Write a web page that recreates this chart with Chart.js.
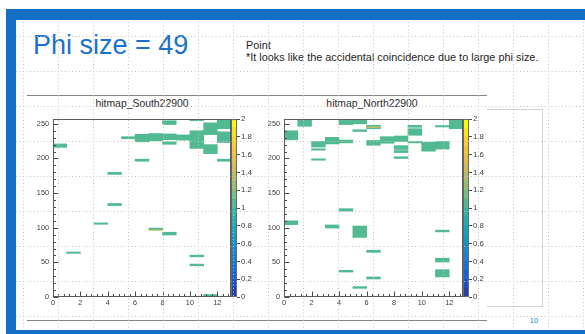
<!DOCTYPE html>
<html>
<head>
<meta charset="utf-8">
<script src="https://cdn.jsdelivr.net/npm/chart.js@4.4.1/dist/chart.umd.min.js"></script>
<style>
  html, body { margin: 0; padding: 0; background: #fff; }
  body { width: 585px; height: 334px; position: relative; overflow: hidden;
         font-family: "Liberation Sans", Arial, Helvetica, sans-serif; }
  .abs { position: absolute; }
  .band { position: absolute; background: #1570c5; }
  #grid { left: 16px; top: 20px; width: 569px; height: 310px; z-index: 5; pointer-events: none;
          background-image: url("data:image/svg+xml,%3Csvg xmlns='http://www.w3.org/2000/svg' width='35' height='35'%3E%3Cpath d='M0 0.5H35M0.5 0V35' stroke='%23c2c2c2' stroke-width='1' stroke-dasharray='1 2.5' fill='none'/%3E%3C/svg%3E");
          background-position: 7px 16px; }
  .slideTitle { left: 33px; top: 32px; font-size: 27px; line-height: 27px; color: #1b72c8; white-space: nowrap; }
  .note { left: 246px; font-size: 10.9px; line-height: 11px; color: #1e1e1e; white-space: nowrap; }
  .padTitle { width: 230px; text-align: center; font-size: 10.4px; line-height: 10.4px; color: #2a2a2a; top: 99px; }
  .rule { background: #858585; height: 1px; }
  canvas { position: absolute; }
</style>
</head>
<body>
<div class="band" style="left:6px;top:9px;width:579px;height:11px;"></div>
<div class="band" style="left:6px;top:9px;width:10px;height:325px;"></div>
<div class="band" style="left:6px;top:330px;width:579px;height:4px;"></div>

<div class="abs slideTitle">Phi size = 49</div>
<div class="abs note" style="top:40px;">Point</div>
<div class="abs note" style="top:52px;">*It looks like the accidental coincidence due to large phi size.</div>

<div class="abs rule" style="left:27px;top:95px;width:460px;"></div>
<div class="abs rule" style="left:27px;top:320px;width:460px;"></div>
<div class="abs" style="left:487px;top:109px;width:55px;height:196px;border:1px solid #d2d2d2;border-left:none;"></div>

<div class="abs padTitle" style="left:27px;">hitmap_South22900</div>
<div class="abs padTitle" style="left:257px;">hitmap_North22900</div>

<canvas id="south" width="230" height="225" style="left:27px;top:95px;"></canvas>
<canvas id="southZ" width="26" height="225" style="left:231px;top:95px;"></canvas>
<canvas id="north" width="230" height="225" style="left:257px;top:95px;"></canvas>
<canvas id="northZ" width="26" height="225" style="left:463px;top:95px;"></canvas>

<div class="abs" style="left:524px;top:317px;width:20px;text-align:center;font-size:7.5px;line-height:7.5px;color:#2a7fd0;">10</div>
<div id="grid" class="abs"></div>

<script>
// Bin labels and axis ticks
const xBins  = ['0','1','2','3','4','5','6','7','8','9','10','11','12'];
const xTicks = [0, 2, 4, 6, 8, 10, 12];
const yTicks = [0, 50, 100, 150, 200, 250];
const zLevels = [0, 0.1, 0.2, 0.3, 0.4, 0.5, 0.6, 0.7, 0.8, 0.9, 1.0,
                 1.1, 1.2, 1.3, 1.4, 1.5, 1.6, 1.7, 1.8, 1.9, 2.0];
const zTicks = [0, 0.2, 0.4, 0.6, 0.8, 1, 1.2, 1.4, 1.6, 1.8, 2];

// Hit cells: [column, y low, y high, content]
const southCells = [
  [0, 216, 221, 1],
  [1, 63, 65, 1],
  [3, 105, 107, 1],
  [4, 132, 135, 1],
  [4, 177, 180, 1],
  [5, 228.5, 231.5, 1],
  [6, 196, 199, 1],
  [6, 224, 235, 1],
  [7, 225.5, 236, 1],
  [7, 97.2, 99.5, 1],
  [7, 96.2, 97.2, 1.3],
  [8, 89.5, 93.5, 1],
  [8, 227, 235.5, 1],
  [8, 220.5, 224, 1],
  [8, 249, 254.5, 1],
  [9, 226.5, 234, 1],
  [10, 214.5, 240, 1],
  [10, 254.5, 257, 1],
  [10, 58, 60.5, 1],
  [10, 45, 47.5, 1],
  [11, 234.5, 251.5, 1],
  [11, 207, 220, 1],
  [11, 0, 3.5, 1],
  [12, 243, 257, 1],
  [12, 223, 238.5, 1],
  [12, 196, 199, 1]
];

const northCells = [
  [0, 227, 240, 1],
  [0, 104.5, 110, 1],
  [1, 246.5, 256, 1],
  [2, 216.5, 224.5, 1],
  [2, 212, 214, 1],
  [2, 197.5, 199.5, 1],
  [3, 221, 230.5, 1],
  [3, 99.5, 104, 1],
  [4, 249, 255, 1],
  [4, 222.5, 226.5, 1],
  [4, 124, 127.5, 1],
  [4, 36, 38.5, 1],
  [5, 250, 256.5, 1],
  [5, 239, 241.5, 1],
  [5, 86, 102.5, 1],
  [5, 12.5, 15, 1],
  [6, 243, 248, 1],
  [6, 244.5, 246, 1.3],
  [6, 219, 226, 1],
  [6, 64.5, 67.5, 1],
  [6, 26, 29, 1],
  [7, 222, 231.5, 1],
  [8, 224.5, 232.5, 1],
  [8, 213, 218.5, 1],
  [8, 208.5, 211.5, 1],
  [8, 200, 202.5, 1],
  [9, 233.5, 243, 1],
  [9, 245, 247.8, 1],
  [9, 222.5, 224.5, 1],
  [10, 210.5, 223.5, 1],
  [11, 213.5, 224.5, 1],
  [11, 245.5, 247.5, 1],
  [11, 94, 96.5, 1],
  [11, 50.5, 56, 1],
  [11, 29, 39.5, 1],
  [12, 243, 256.5, 1]
];

// "Bird" colour palette
const birdStops = [0.0000, 0.1250, 0.2500, 0.3750, 0.5000, 0.6250, 0.7500, 0.8750, 1.0000];
const birdRed   = [0.2082, 0.0592, 0.0780, 0.0232, 0.1802, 0.5301, 0.8186, 0.9956, 0.9764];
const birdGreen = [0.1664, 0.3599, 0.5041, 0.6419, 0.7178, 0.7492, 0.7328, 0.7862, 0.9832];
const birdBlue  = [0.5293, 0.8684, 0.8385, 0.7914, 0.6425, 0.4662, 0.3499, 0.1968, 0.0539];

function birdColor(f) {
  f = Math.max(0, Math.min(1, f));
  let i = 0;
  while (i < birdStops.length - 2 && f > birdStops[i + 1]) i++;
  const t = (f - birdStops[i]) / (birdStops[i + 1] - birdStops[i]);
  const mix = a => Math.round(255 * (a[i] + (a[i + 1] - a[i]) * t));
  return `rgb(${mix(birdRed)},${mix(birdGreen)},${mix(birdBlue)})`;
}

const nLevels = zLevels.length - 1;
const zMax = zLevels[nLevels];
function levelColor(i) { return birdColor((i + 0.99) / nLevels); }
function zColor(z) {
  const i = Math.min(nLevels - 1, Math.floor(z / (zMax / nLevels) + 1e-9));
  return levelColor(i);
}

const FONT = "'Liberation Sans', Arial, Helvetica, sans-serif";
const Y_MAX = 257;
const X_MAX = 13;

// Frame around the plot area and inward-pointing axis ticks
const rootFrame = {
  id: 'rootFrame',
  afterDatasetsDraw(chart, args, o) {
    const { ctx, chartArea: a } = chart;
    const L = Math.round(a.left) + 0.5, R = Math.round(a.right) - 0.5;
    const T = Math.round(a.top) + 0.5, B = Math.round(a.bottom) - 0.5;
    ctx.save();
    ctx.lineWidth = 1;
    if (o.ticks) {
      const xs = chart.scales.xt, ys = chart.scales.y;
      ctx.strokeStyle = o.tickColor;
      ctx.beginPath();
      const subX = (xTicks[1] - xTicks[0]) / 5;
      for (let k = 0; k * subX <= xs.max + 1e-9; k++) {
        const v = k * subX;
        const px = Math.round(xs.getPixelForValue(v)) + 0.5;
        const major = xTicks.some(t => Math.abs(t - v) < 1e-6);
        ctx.moveTo(px, B);
        ctx.lineTo(px, B - (major ? 5 : 2.5));
      }
      const subY = (yTicks[1] - yTicks[0]) / 5;
      for (let k = 0; k * subY <= ys.max + 1e-9; k++) {
        const v = k * subY;
        const py = Math.round(ys.getPixelForValue(v)) + 0.5;
        const major = yTicks.some(t => Math.abs(t - v) < 1e-6);
        ctx.moveTo(L, py);
        ctx.lineTo(L + (major ? 5 : 2.5), py);
      }
      ctx.stroke();
    }
    ctx.strokeStyle = o.color;
    ctx.strokeRect(L, T, R - L, B - T);
    ctx.restore();
  }
};

function heatmap(canvasId, cells, yAxisWidth, padRight) {
  return new Chart(document.getElementById(canvasId), {
    type: 'bar',
    data: {
      datasets: [{
        data: cells.map(c => ({ x: xBins[c[0]], y: [c[1], c[2]] })),
        backgroundColor: ctx => zColor(cells[ctx.dataIndex][3]),
        borderWidth: 0,
        barPercentage: 1,
        categoryPercentage: 1,
        grouped: false
      }]
    },
    options: {
      responsive: false,
      animation: false,
      events: [],
      layout: { padding: { left: 0, right: padRight, top: 24, bottom: 9 } },
      plugins: {
        legend: { display: false },
        tooltip: { enabled: false },
        rootFrame: { color: '#5a5a5a', tickColor: '#4a4a4a', ticks: true }
      },
      scales: {
        x: { type: 'category', labels: xBins, display: false, offset: true },
        xt: {
          type: 'linear', position: 'bottom', min: 0, max: X_MAX, offset: false,
          afterBuildTicks: s => { s.ticks = xTicks.map(v => ({ value: v })); },
          afterFit: s => { s.height = 14; },
          grid: { display: false, drawTicks: false, offset: false },
          border: { display: false },
          ticks: { padding: 2, color: '#3c3c3c', font: { family: FONT, size: 7.3 },
                   maxRotation: 0, autoSkip: false, callback: v => String(v) }
        },
        y: {
          type: 'linear', min: 0, max: Y_MAX,
          afterBuildTicks: s => { s.ticks = yTicks.map(v => ({ value: v })); },
          afterFit: s => { s.width = yAxisWidth; },
          grid: { display: false, drawTicks: false },
          border: { display: false },
          ticks: { padding: 4, color: '#3c3c3c', font: { family: FONT, size: 7.3 },
                   autoSkip: false, callback: v => String(v) }
        }
      }
    },
    plugins: [rootFrame]
  });
}

function colorBar(canvasId) {
  const datasets = [];
  for (let i = 0; i < nLevels; i++) {
    datasets.push({
      data: [{ x: 'z', y: [zLevels[i], zLevels[i + 1]] }],
      backgroundColor: levelColor(i),
      borderWidth: 0,
      barPercentage: 1,
      categoryPercentage: 1,
      grouped: false
    });
  }
  return new Chart(document.getElementById(canvasId), {
    type: 'bar',
    data: { labels: ['z'], datasets },
    options: {
      responsive: false,
      animation: false,
      events: [],
      layout: { padding: { left: 0, right: 0, top: 24, bottom: 23 } },
      plugins: {
        legend: { display: false },
        tooltip: { enabled: false },
        rootFrame: { color: '#6a6a6a', ticks: false }
      },
      scales: {
        x: { type: 'category', display: false, offset: true },
        y: {
          type: 'linear', position: 'right', min: 0, max: zMax,
          afterBuildTicks: s => { s.ticks = zTicks.map(v => ({ value: v })); },
          afterFit: s => { s.width = 20; },
          grid: { display: true, drawOnChartArea: false, drawTicks: true, tickLength: 3, color: '#4a4a4a' },
          border: { display: false },
          ticks: { padding: 1, color: '#3c3c3c', font: { family: FONT, size: 7.8 },
                   autoSkip: false, callback: v => String(v) }
        }
      }
    },
    plugins: [rootFrame]
  });
}

heatmap('south', southCells, 26, 26);
colorBar('southZ');
heatmap('north', northCells, 27, 24);
colorBar('northZ');
</script>
</body>
</html>
